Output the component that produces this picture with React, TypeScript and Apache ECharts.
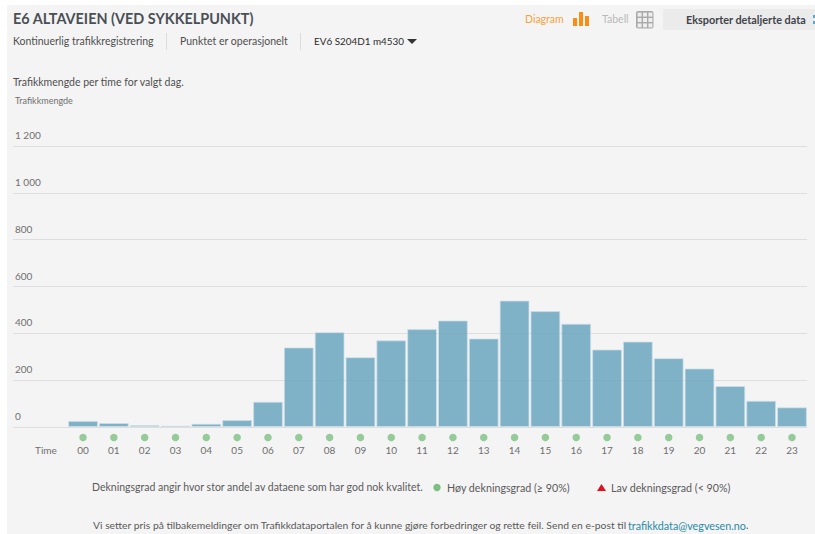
import React, { useEffect, useRef } from "react";
import * as echarts from "echarts";

const hours = ["00","01","02","03","04","05","06","07","08","09","10","11","12","13","14","15","16","17","18","19","20","21","22","23"];
const traffic = [26,17,8,6,14,30,108,340,405,298,370,418,455,378,540,495,441,331,365,294,250,175,112,84];
const coverage = hours.map(() => 1);
const yTicks = [0,200,400,600,800,1000,1200];

const FONT = "Lato, 'Open Sans', sans-serif";
const txt = (x: number, y: number, text: string, fill: string, fontSize: number, extra: any = {}) => ({
  type: "text", x, y, z: 5,
  style: { text, fill, fontSize, fontFamily: FONT, verticalAlign: "middle", ...(extra.style || {}) },
});
const box = (x: number, y: number, width: number, height: number, fill: string, z = 1, r = 0) => ({
  type: "rect", z, shape: { x, y, width, height, r }, style: { fill },
});

export default function App() {
  const ref = useRef<HTMLDivElement>(null);
  useEffect(() => {
    document.body.style.margin = "0";
    const chart = echarts.init(ref.current!, null, { renderer: "svg" });
    const axisCommon = { min: 0, max: 1200, interval: 200 };
    const tableCells: any[] = [];
    [0, 1, 2].forEach((r) => [0, 1, 2].forEach((c) => tableCells.push(box(637.6 + c * 5.4, 12.6 + r * 5.4, 4, 4, "#eeeeee", 3))));
    chart.setOption({
      animation: false,
      backgroundColor: "#ffffff",
      grid: [
        { left: 13, right: 8, top: 146, height: 281 },
        { left: 67.6, right: 7.6, top: 146, height: 281 },
        { left: 67.6, right: 7.6, top: 431, height: 13 },
      ],
      xAxis: [
        { type: "category", gridIndex: 0, data: [""], show: false },
        { type: "category", gridIndex: 1, data: hours, axisLine: { show: false }, axisTick: { show: false }, axisLabel: { show: false } },
        {
          type: "category", gridIndex: 2, data: hours, position: "bottom",
          axisLine: { show: false }, axisTick: { show: false },
          axisLabel: { color: "#6f6f6f", fontSize: 10, fontFamily: FONT, margin: 1, interval: 0 },
        },
      ],
      yAxis: [
        {
          type: "value", gridIndex: 0, ...axisCommon,
          axisLine: { show: false }, axisTick: { show: false },
          splitLine: { lineStyle: { color: "#dedede", width: 1 } },
          axisLabel: {
            inside: true, margin: 2, color: "#6f6f6f", fontSize: 10, fontFamily: FONT,
            verticalAlign: "bottom", padding: [0, 0, 6, 0], showMinLabel: true, showMaxLabel: true,
            customValues: yTicks,
            formatter: (v: number) => (v >= 1000 ? `${Math.floor(v / 1000)} ${String(v % 1000).padStart(3, "0")}` : String(v)),
          },
        },
        { type: "value", gridIndex: 1, ...axisCommon, show: false, splitLine: { show: false } },
        { type: "value", gridIndex: 2, min: 0, max: 2, show: false, splitLine: { show: false } },
      ],
      series: [
        {
          type: "bar", xAxisIndex: 1, yAxisIndex: 1, data: traffic, barWidth: 29.8, z: 3,
          itemStyle: { color: "rgba(112,169,192,0.88)", borderColor: "rgba(205,224,233,0.7)", borderWidth: 1 },
          silent: true,
        },
        {
          type: "scatter", xAxisIndex: 2, yAxisIndex: 2, data: coverage, symbol: "circle", symbolSize: 7.5,
          itemStyle: { color: "#7dbf82" }, silent: true,
        },
      ],
      graphic: [
        { ...box(7, 5, 808, 529, "#f4f4f4"), z: -1 },
        txt(13, 18, "E6 ALTAVEIEN (VED SYKKELPUNKT)", "#4a4f54", 14.4, { style: { fontWeight: "bold" } }),
        txt(13, 41, "Kontinuerlig trafikkregistrering", "#4f4f4f", 10.5),
        box(166, 33, 1, 17, "#dddddd"),
        txt(180, 41, "Punktet er operasjonelt", "#4f4f4f", 10.5),
        box(300, 33, 1, 17, "#dddddd"),
        txt(314, 41, "EV6 S204D1 m4530", "#2b2b2b", 9.9),
        { type: "polygon", shape: { points: [[407, 39], [417, 39], [412, 44]] }, style: { fill: "#333333" } },
        txt(13, 82, "Trafikkmengde per time for valgt dag.", "#4f4f4f", 10.5),
        txt(15, 100, "Trafikkmengde", "#6f6f6f", 9),
        txt(525, 19, "Diagram", "#f9a13d", 10.5),
        box(573, 18, 4, 8, "#f98e12"),
        box(579, 12, 4, 14, "#f98e12"),
        box(585, 16, 4, 10, "#f98e12"),
        txt(602, 19, "Tabell", "#b9b9b9", 10.5),
        box(636, 11, 17.5, 17.5, "#a9a9a9", 2, 2),
        ...tableCells,
        box(663, 9, 152, 21, "#ebebeb"),
        txt(686, 19, "Eksporter detaljerte data", "#3f444a", 10.85, { style: { fontWeight: "bold" } }),
        box(813, 15, 2, 3, "#58a9cc", 3),
        box(813, 21, 2, 3, "#58a9cc", 3),
        txt(35, 450, "Time", "#6f6f6f", 10),
        txt(92, 487, "Dekningsgrad angir hvor stor andel av dataene som har god nok kvalitet.", "#5a5a5a", 10.5),
        { type: "circle", shape: { cx: 437, cy: 487.5, r: 3.7 }, style: { fill: "#7dbf82" } },
        txt(447, 487, "Høy dekningsgrad (≥ 90%)", "#5a5a5a", 10.7),
        { type: "polygon", shape: { points: [[597, 491], [606, 491], [601.5, 484]] }, style: { fill: "#e0121f" } },
        txt(611, 487, "Lav dekningsgrad (< 90%)", "#5a5a5a", 10.7),
        txt(93, 525, "Vi setter pris på tilbakemeldinger om Trafikkdataportalen for å kunne gjøre forbedringer og rette feil. Send en e-post til", "#5a5a5a", 10.35),
        txt(628, 525, "trafikkdata@vegvesen.no", "#2a8aa8", 10.75),
        txt(746, 525, ".", "#5a5a5a", 10.5),
      ],
    });
    return () => chart.dispose();
  }, []);
  return <div ref={ref} style={{ width: 815, height: 534 }} />;
}
